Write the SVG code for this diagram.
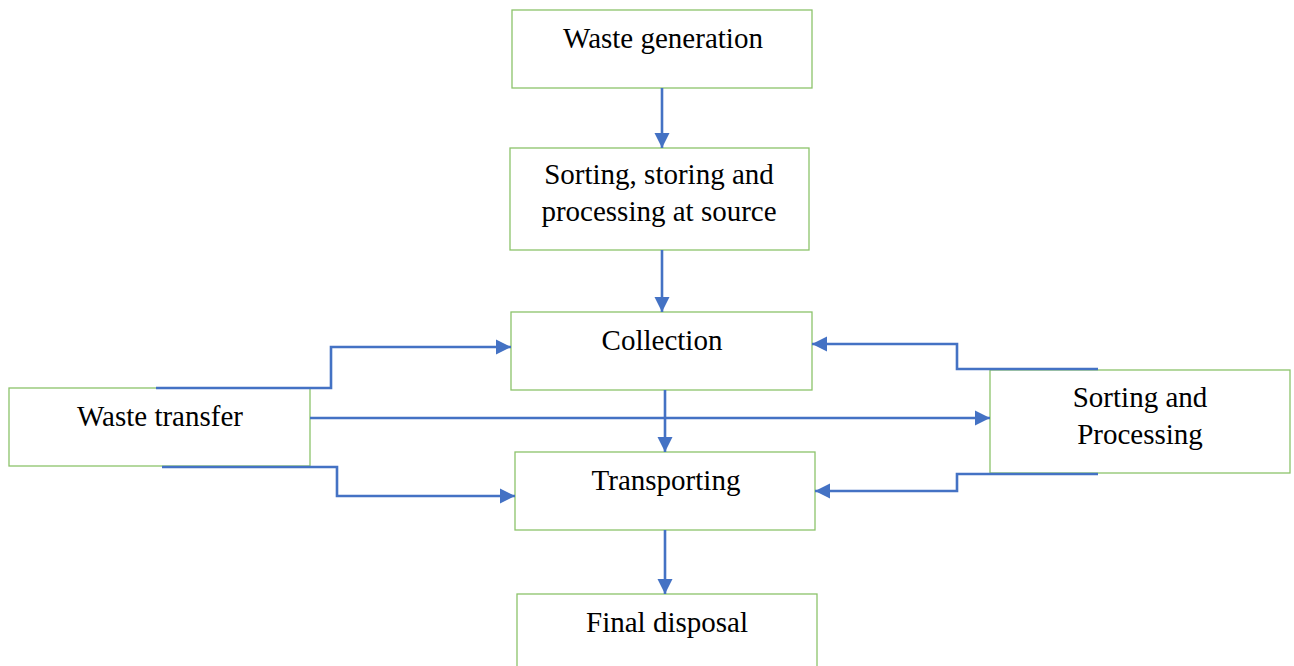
<svg xmlns="http://www.w3.org/2000/svg" width="1294" height="666" viewBox="0 0 1294 666">
<style>
.box{fill:#fff;stroke:#8CC36A;stroke-width:1.3}
.t{font-family:"Liberation Serif","Times New Roman",serif;font-size:29px;fill:#000;text-anchor:middle}
.c{fill:none;stroke:#4472C4;stroke-width:2.6;marker-end:url(#ah)}
</style>
<defs>
<marker id="ah" viewBox="0 0 10 10" refX="10" refY="5" markerWidth="5.8" markerHeight="5.8" markerUnits="strokeWidth" orient="auto">
<path d="M0,0 L10,5 L0,10 Z" fill="#4472C4"/>
</marker>
</defs>
<rect width="1294" height="666" fill="#fff"/>
<g id="waste-generation"><rect class="box" x="512" y="10" width="300" height="78"/><text class="t" x="663" y="48">Waste generation</text></g>
<g id="sorting-source"><rect class="box" x="510" y="148" width="299" height="102"/><text class="t" x="659" y="184">Sorting, storing and</text><text class="t" x="659" y="221">processing at source</text></g>
<g id="collection"><rect class="box" x="511" y="312" width="301" height="78"/><text class="t" x="662" y="350">Collection</text></g>
<g id="waste-transfer"><rect class="box" x="9" y="388" width="301" height="78"/><text class="t" x="160" y="426">Waste transfer</text></g>
<g id="sorting-processing"><rect class="box" x="990" y="370" width="300" height="103"/><text class="t" x="1140" y="407">Sorting and</text><text class="t" x="1140" y="444">Processing</text></g>
<g id="transporting"><rect class="box" x="515" y="452" width="300" height="78"/><text class="t" x="666" y="490">Transporting</text></g>
<g id="final-disposal"><rect class="box" x="517" y="594" width="300" height="80"/><text class="t" x="667" y="632">Final disposal</text></g>
<g id="connectors">
<path class="c" d="M662,88 V148"/>
<path class="c" d="M662,250 V312"/>
<path class="c" d="M665,390 V452"/>
<path class="c" d="M665,530 V594"/>
<path class="c" d="M156,388 H331 V347 H511"/>
<path class="c" d="M310,418 H990"/>
<path class="c" d="M162,467 H337 V496 H515"/>
<path class="c" d="M1098,369 H957 V344 H812"/>
<path class="c" d="M1098,474 H957 V491 H815"/>
</g>
</svg>
